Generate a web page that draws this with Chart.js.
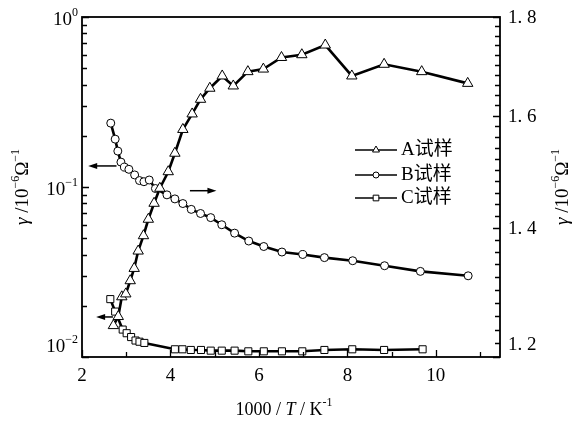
<!DOCTYPE html>
<html>
<head>
<meta charset="utf-8">
<script src="https://cdn.jsdelivr.net/npm/chart.js@4.4.0/dist/chart.umd.min.js"></script>
<style>
  html, body { margin: 0; padding: 0; background: #fff; }
  #wrap { width: 573px; height: 424px; }
</style>
</head>
<body>
<div id="wrap"><canvas id="chart" width="573" height="424"></canvas></div>
<script>
const FONT = '"Liberation Serif", "Noto Sans CJK SC", serif';

// sample A, left (log) axis
const aX = [2.71, 2.82, 2.90, 2.99, 3.09, 3.18, 3.27, 3.39, 3.50, 3.63, 3.76, 3.95, 4.10, 4.28,
            4.49, 4.68, 4.89, 5.17, 5.42, 5.75, 6.10, 6.51, 6.97, 7.50, 8.10, 8.83, 9.68, 10.72];
const aY = [0.0153, 0.0173, 0.0226, 0.0235, 0.0281, 0.0332, 0.0420, 0.0517, 0.0646, 0.0802, 0.0983, 0.123, 0.158, 0.218,
            0.269, 0.328, 0.381, 0.450, 0.393, 0.477, 0.494, 0.578, 0.600, 0.684, 0.450, 0.527, 0.477, 0.407];

// sample B, right axis
const bX = [2.65, 2.75, 2.81, 2.88, 2.96, 3.06, 3.19, 3.30, 3.40, 3.52, 3.66, 3.92, 4.10, 4.28,
            4.47, 4.68, 4.91, 5.16, 5.45, 5.77, 6.11, 6.52, 6.99, 7.48, 8.12, 8.84, 9.65, 10.73];
const bY = [1.586, 1.556, 1.534, 1.514, 1.505, 1.501, 1.491, 1.481, 1.479, 1.482, 1.467, 1.456, 1.449, 1.441,
            1.431, 1.424, 1.417, 1.405, 1.391, 1.378, 1.369, 1.360, 1.356, 1.351, 1.346, 1.338, 1.329, 1.322];

// sample C, left (log) axis
const cX = [2.64, 2.75, 2.92, 3.01, 3.11, 3.21, 3.30, 3.41, 4.10, 4.27, 4.46, 4.69,
            4.91, 5.16, 5.45, 5.76, 6.11, 6.52, 6.98, 7.48, 8.11, 8.83, 9.70];
const cY = [0.0219, 0.0185, 0.0145, 0.0138, 0.0131, 0.0125, 0.0123, 0.0121, 0.0111, 0.0111, 0.0110, 0.0110,
            0.0109, 0.0109, 0.0109, 0.0108, 0.0108, 0.0108, 0.0108, 0.0110, 0.0111, 0.0110, 0.0111];

const seriesNames = ['A试样', 'B试样', 'C试样'];

// axes
const xMin = 2, xMax = 11.45;
const xTicks = [2, 3, 4, 5, 6, 7, 8, 9, 10, 11];
const xLabels = [2, 4, 6, 8, 10];
const leftMin = 0.01, leftMax = 1;
const leftMajor = [0.01, 0.1, 1];
const leftExp = ['\u22122', '\u22121', '0'];
const rightMin = 1.2, rightMax = 1.8;
const rightMajor = [1.2, 1.4, 1.6, 1.8];
const rightLabels = ['1. 2', '1. 4', '1. 6', '1. 8'];

// arrows: x from -> to, y on left axis
const arrows = [
  { from: 2.78, to: 2.14, y: 0.133 },
  { from: 4.44, to: 5.04, y: 0.0951 },
  { from: 2.70, to: 2.32, y: 0.0172 }
];

const leftTicks = [];
for (let d = -2; d < 0; d++) for (let k = 1; k <= 9; k++) leftTicks.push(+(k * Math.pow(10, d)).toPrecision(3));
leftTicks.push(1);
const rightTicks = [];
for (let i = 0; i <= 30; i++) rightTicks.push(+(1.2 + i * 0.02).toFixed(2));

const pts = (xs, ys) => xs.map((x, i) => ({ x: x, y: ys[i] }));

function drawParts(ctx, parts, x, y, align) {
  let w = 0;
  parts.forEach(p => { ctx.font = p.f; p.w = ctx.measureText(p.t).width; w += p.w; });
  let cx = align === 'right' ? x - w : align === 'center' ? x - w / 2 : x;
  ctx.textAlign = 'left';
  ctx.textBaseline = 'middle';
  parts.forEach(p => {
    ctx.font = p.f;
    ctx.fillText(p.t, cx, y + (p.dy || 0));
    cx += p.w;
  });
}

const main = '18px ' + FONT;
const big = '19px ' + FONT;
const ital = 'italic 19px ' + FONT;
const sup = '12px ' + FONT;

const decor = {
  id: 'decor',
  afterDraw(chart) {
    const ctx = chart.ctx;
    const a = chart.chartArea;
    const x = chart.scales.x, yl = chart.scales.yL, yr = chart.scales.yR;
    ctx.save();
    ctx.strokeStyle = '#000';
    ctx.fillStyle = '#000';

    // frame
    ctx.lineWidth = 1.8;
    ctx.strokeRect(a.left, a.top, a.right - a.left, a.bottom - a.top);

    // inward ticks
    ctx.lineWidth = 1.3;
    ctx.beginPath();
    xTicks.forEach(v => {
      const px = Math.round(x.getPixelForValue(v)) + 0.5;
      const len = xLabels.includes(v) ? 7 : 5;
      ctx.moveTo(px, a.bottom); ctx.lineTo(px, a.bottom - len);
    });
    leftTicks.forEach(v => {
      const py = Math.round(yl.getPixelForValue(v)) + 0.5;
      const len = leftMajor.includes(v) ? 7 : 5;
      ctx.moveTo(a.left, py); ctx.lineTo(a.left + len, py);
    });
    rightTicks.forEach(v => {
      const py = Math.round(yr.getPixelForValue(v)) + 0.5;
      const len = rightMajor.includes(v) ? 7 : 5;
      ctx.moveTo(a.right, py); ctx.lineTo(a.right - len, py);
    });
    ctx.stroke();

    // y tick labels
    leftMajor.forEach((v, i) => {
      const py = Math.min(yl.getPixelForValue(v) + 3, a.bottom - 10);
      drawParts(ctx, [{ t: '10', f: big }, { t: leftExp[i], f: sup, dy: -7 }], 78, py, 'right');
    });
    rightMajor.forEach((v, i) => {
      const py = Math.min(yr.getPixelForValue(v) + 1, a.bottom - 12);
      drawParts(ctx, [{ t: rightLabels[i], f: big }], 508, py, 'left');
    });

    // axis titles
    const yTitle = [
      { t: '\u03b3 ', f: ital }, { t: '/10', f: big }, { t: '\u22126', f: sup, dy: -7 },
      { t: '\u03a9', f: big }, { t: '\u22121', f: sup, dy: -7 }
    ];
    const midY = (a.top + a.bottom) / 2;
    [23, 563].forEach(tx => {
      ctx.save();
      ctx.translate(tx, midY);
      ctx.rotate(-Math.PI / 2);
      drawParts(ctx, yTitle.map(p => Object.assign({}, p)), 0, 0, 'center');
      ctx.restore();
    });
    drawParts(ctx, [
      { t: '1000 / ', f: main }, { t: 'T', f: 'italic 18px ' + FONT }, { t: ' / K', f: main }, { t: '-1', f: sup, dy: -7 }
    ], (a.left + a.right) / 2 - 7, 410, 'center');

    // arrows
    ctx.lineWidth = 1.5;
    arrows.forEach(ar => {
      const x0 = x.getPixelForValue(ar.from), x1 = x.getPixelForValue(ar.to);
      const py = yl.getPixelForValue(ar.y);
      const dir = Math.sign(x1 - x0);
      ctx.beginPath();
      ctx.moveTo(x0, py); ctx.lineTo(x1 - dir * 6, py);
      ctx.stroke();
      ctx.beginPath();
      ctx.moveTo(x1, py);
      ctx.lineTo(x1 - dir * 9, py - 3);
      ctx.lineTo(x1 - dir * 9, py + 3);
      ctx.closePath();
      ctx.fill();
    });

    // legend
    const styles = [['triangle', 4], ['circle', 3], ['rect', 4]];
    const rowY = [a.top + 133, a.top + 158, a.top + 181];
    seriesNames.forEach((name, i) => {
      const ly = rowY[i];
      ctx.lineWidth = 1.4;
      ctx.strokeStyle = '#000';
      ctx.beginPath();
      ctx.moveTo(355, ly); ctx.lineTo(397, ly);
      ctx.stroke();
      ctx.fillStyle = '#fff';
      ctx.lineWidth = 1;
      Chart.helpers.drawPoint(ctx, { pointStyle: styles[i][0], radius: styles[i][1], rotation: 0, borderWidth: 1 }, 376, ly);
      ctx.fillStyle = '#000';
      drawParts(ctx, [{ t: name, f: big }], 401, ly, 'left');
    });
    ctx.restore();
  }
};

const lineStyle = {
  borderColor: '#000',
  borderWidth: 2.6,
  pointBackgroundColor: '#fff',
  pointBorderColor: '#000',
  pointBorderWidth: 1,
  tension: 0,
  fill: false
};

new Chart(document.getElementById('chart'), {
  type: 'line',
  data: {
    datasets: [
      Object.assign({ label: seriesNames[0], data: pts(aX, aY), yAxisID: 'yL', pointStyle: 'triangle', pointRadius: 6 }, lineStyle),
      Object.assign({ label: seriesNames[1], data: pts(bX, bY), yAxisID: 'yR', pointStyle: 'circle', pointRadius: 4 }, lineStyle),
      Object.assign({ label: seriesNames[2], data: pts(cX, cY), yAxisID: 'yL', pointStyle: 'rect', pointRadius: 5 }, lineStyle)
    ]
  },
  options: {
    responsive: false,
    animation: false,
    layout: { padding: { top: 17, left: 0, right: 0, bottom: 0 } },
    plugins: { legend: { display: false }, tooltip: { enabled: false } },
    scales: {
      x: {
        type: 'linear',
        min: xMin, max: xMax,
        grid: { drawOnChartArea: false, drawTicks: false },
        border: { display: false },
        afterBuildTicks: s => { s.ticks = xTicks.map(v => ({ value: v })); },
        afterFit: s => { s.height = 67; },
        ticks: {
          autoSkip: false, maxRotation: 0, padding: 8, color: '#000',
          font: { family: FONT, size: 19 },
          callback: v => xLabels.includes(v) ? String(v) : ''
        }
      },
      yL: {
        type: 'logarithmic', position: 'left',
        min: leftMin, max: leftMax,
        grid: { display: false }, border: { display: false },
        ticks: { display: false },
        afterBuildTicks: s => { s.ticks = leftTicks.map(v => ({ value: v })); },
        afterFit: s => { s.width = 82; }
      },
      yR: {
        type: 'logarithmic', position: 'right',
        min: rightMin, max: rightMax,
        grid: { display: false }, border: { display: false },
        ticks: { display: false },
        afterBuildTicks: s => { s.ticks = rightTicks.map(v => ({ value: v })); },
        afterFit: s => { s.width = 73; }
      }
    }
  },
  plugins: [decor]
});
</script>
</body>
</html>
